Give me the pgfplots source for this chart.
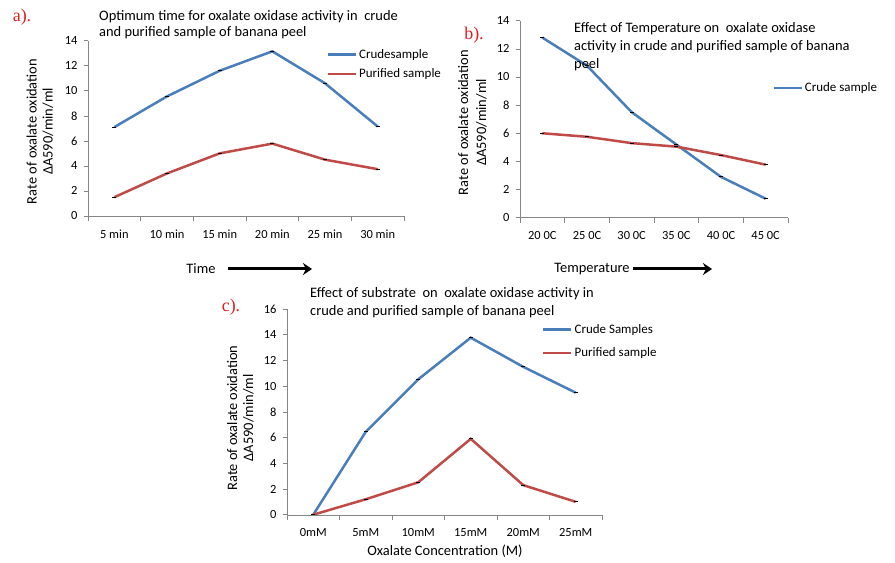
\documentclass[border=0pt]{standalone}
\usepackage{pgfplots}
\pgfplotsset{compat=1.18}
\usetikzlibrary{arrows.meta}
\usepackage{fontspec}
\setmainfont{Carlito}
\newfontfamily\seriffont{Liberation Serif}
\definecolor{xlblue}{RGB}{74,126,187}
\definecolor{xlred}{RGB}{190,75,72}
\definecolor{axgray}{RGB}{134,134,134}
\definecolor{lblred}{RGB}{225,30,30}
\pgfplotsset{
  excel/.style={
    scale only axis,
    axis x line*=bottom, axis y line*=left,
    axis line style={draw=axgray,-},
    tick align=outside,
    xmin=-0.5, xmax=5.5, ymin=0,
    xtick={0,...,5},
    minor xtick={-0.5,0.5,...,5.5},
    every major x tick/.style={draw=none},
    tick style={draw=axgray, line width=0.6bp},
    major tick length=4bp, minor tick length=5bp,
    ytick distance=2,
    tick label style={font=\fontsize{12.5}{14}\selectfont},
    /pgf/number format/assume math mode=true,
    xticklabel style={yshift=-6bp},
    yticklabel style={xshift=-3bp},
    legend style={draw=none, fill=none, font=\fontsize{13}{15}\selectfont},
    legend cell align=left,
    legend image code/.code={\draw[##1] (0bp,0bp) -- (28bp,0bp);},
    every axis plot/.append style={line width=2.5bp, mark=-, mark size=2bp, mark options={black, line width=0.8bp}},
  }
}
\begin{document}
\begin{tikzpicture}
\useasboundingbox (0,0) rectangle (895bp,563bp);
% ---------- panel a
\begin{axis}[excel, at={(88bp,347bp)}, anchor=south west,
  width=316bp, height=175.3bp, ymax=14,
  xticklabels={5 min,10 min,15 min,20 min,25 min,30 min},
  legend style={at={(0.745,0.975)}, anchor=north west, row sep=5bp}]
\addplot[color=xlblue] coordinates {(0,7.1)(1,9.55)(2,11.6)(3,13.15)(4,10.6)(5,7.15)};
\addlegendentry{Crudesample}
\addplot[color=xlred] coordinates {(0,1.5)(1,3.4)(2,5.0)(3,5.78)(4,4.5)(5,3.74)};
\addlegendentry{Purified sample}
\end{axis}
% ---------- panel b
\begin{axis}[excel, at={(520bp,345.3bp)}, anchor=south west,
  width=268bp, height=197bp, ymax=14,
  xticklabels={20 0C,25 0C,30 0C,35 0C,40 0C,45 0C},
  legend style={at={(0.93,0.658)}, anchor=west}]
\addplot[color=xlblue] coordinates {(0,12.8)(1,10.8)(2,7.5)(3,5.2)(4,2.9)(5,1.35)};
\addlegendentry{Crude sample}
\addplot[color=xlred, forget plot] coordinates {(0,6.0)(1,5.75)(2,5.3)(3,5.05)(4,4.45)(5,3.77)};
\end{axis}
% ---------- panel c
\begin{axis}[excel, at={(287bp,48.3bp)}, anchor=south west,
  width=315bp, height=205.7bp, ymax=16,
  xticklabels={0mM,5mM,10mM,15mM,20mM,25mM},
  legend style={at={(0.8,0.945)}, anchor=north west, row sep=9bp}]
\addplot[color=xlblue] coordinates {(0,0)(1,6.45)(2,10.53)(3,13.77)(4,11.5)(5,9.49)};
\addlegendentry{Crude Samples}
\addplot[color=xlred] coordinates {(0,0)(1,1.2)(2,2.52)(3,5.9)(4,2.3)(5,1.0)};
\addlegendentry{Purified sample}
\end{axis}
% ---------- titles
\node[anchor=north west, align=left, font=\fontsize{14.5}{16.5}\selectfont, inner sep=0pt] at (99bp,553bp)
  {Optimum time for oxalate oxidase activity in~ crude\\and purified sample of banana peel};
\node[anchor=north west, align=left, font=\fontsize{14.5}{18}\selectfont, inner sep=0pt] at (574bp,541bp)
  {Effect of Temperature on~ oxalate oxidase\\activity in crude and purified sample of banana\\peel};
\node[anchor=north west, align=left, font=\fontsize{14.5}{18}\selectfont, inner sep=0pt] at (310bp,276bp)
  {Effect of substrate~ on~ oxalate oxidase activity in\\crude and purified sample of banana peel};
% ---------- y labels
\node[rotate=90, align=center, font=\fontsize{14.5}{16}\selectfont] at (40bp,431.5bp)
  {Rate of oxalate oxidation\\ΔA590/min/ml};
\node[rotate=90, align=center, font=\fontsize{14.5}{18}\selectfont] at (472.5bp,440.5bp)
  {Rate of oxalate oxidation\\ΔA590/min/ml};
\node[rotate=90, align=center, font=\fontsize{14.5}{16}\selectfont] at (240.5bp,145bp)
  {Rate of oxalate oxidation\\ΔA590/min/ml};
% ---------- x labels and arrows
\node[font=\fontsize{14.5}{16}\selectfont] at (201bp,294bp) {Time};
\draw[line width=3bp, -{Stealth[length=9bp,width=12bp]}] (228bp,294bp) -- (312bp,294bp);
\node[font=\fontsize{14.5}{16}\selectfont] at (592bp,294bp) {Temperature};
\draw[line width=3bp, -{Stealth[length=9bp,width=12bp]}] (633bp,294bp) -- (712bp,294bp);
\node[font=\fontsize{14.5}{16}\selectfont] at (445bp,12bp) {Oxalate Concentration (M)};
% ---------- panel letters
\node[text=lblred, font=\seriffont\fontsize{18}{20}\selectfont] at (22bp,546bp) {a).};
\node[text=lblred, font=\seriffont\fontsize{18}{20}\selectfont] at (474bp,528bp) {b).};
\node[text=lblred, font=\seriffont\fontsize{18}{20}\selectfont] at (231bp,256bp) {c).};
\end{tikzpicture}
\end{document}
